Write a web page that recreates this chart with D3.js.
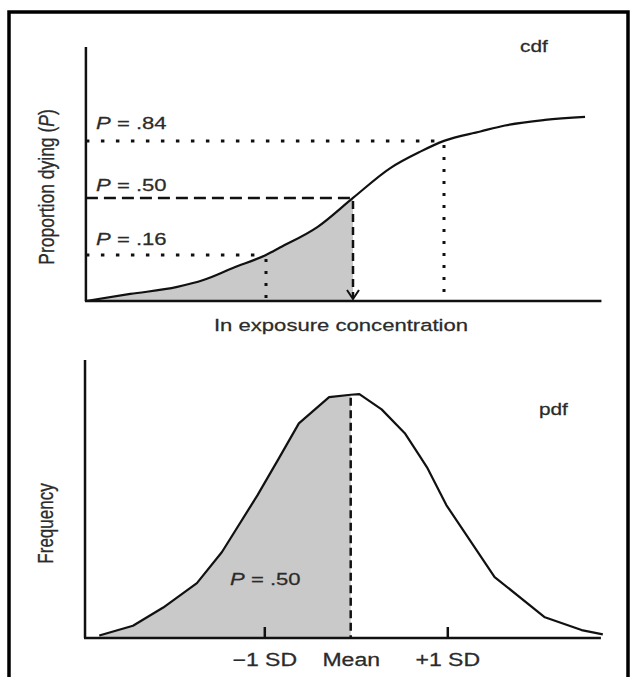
<!DOCTYPE html>
<html><head><meta charset="utf-8">
<script src="https://cdn.jsdelivr.net/npm/d3@7"></script>
<style>
html,body{margin:0;padding:0;background:#fff;}
svg{display:block;font-family:"Liberation Sans", Arial, Helvetica, sans-serif;}
svg text{stroke:#2b2b2b;stroke-width:0.25px;}
</style></head><body>
<svg id="chart" width="633" height="677"></svg>
<script>
// ---- Data ----
// Top panel (cdf): ln exposure concentration, in SD units from the mean, vs proportion dying
const cdfZ = [-3.07, -2.56, -2.02, -1.72, -1.38, -1.0, -0.84, -0.41, 0, 0.41, 0.74, 1.0, 1.40, 1.67, 2.11, 2.55];
const cdfP = [-0.115, -0.073, -0.031, 0.010, 0.082, 0.16, 0.204, 0.326, 0.50, 0.678, 0.776, 0.84, 0.896, 0.932, 0.965, 0.983];
// reference proportions and where they meet the curve
const refP = [0.84, 0.50, 0.16];
const refZ = [1, 0, -1];
const refLabels = [" = .84", " = .50", " = .16"];
// Bottom panel (pdf): SD units vs frequency
const pdfZ = [-2.91, -2.52, -2.17, -1.78, -1.49, -1.08, -0.83, -0.60, -0.25, 0, 0.09, 0.32, 0.56, 0.72, 0.79, 0.99, 1.49, 2.01, 2.39, 2.61];
const pdfF = [0.004, 0.020, 0.050, 0.090, 0.141, 0.234, 0.295, 0.352, 0.395, 0.399, 0.400, 0.375, 0.336, 0.297, 0.280, 0.218, 0.100, 0.034, 0.013, 0.006];
const sdTicks = [-1, 0, 1];
const sdLabels = ["\u22121 SD", "Mean", "+1 SD"];

// ---- Layout ----
const svg = d3.select("#chart");
const INK = "#111", TXT = "#2b2b2b", FILL = "#c9c9c9";
const SX = 1.3; // horizontal stretch of the lettering in the reference

svg.append("rect").attr("width", 633).attr("height", 677).attr("fill", "#fff");

// frame
svg.append("path").attr("d", "M9,677 L9,12 L628,12 L628,677").attr("fill", "none")
  .attr("stroke", "#000").attr("stroke-width", 3.5);

// ===== Top panel =====
const xT = d3.scaleLinear().domain([-1, 0, 1]).range([266, 353, 444]);
const yT = d3.scaleLinear().domain([-0.115, 1.40]).range([301, 47]);
const xT0 = -3.07, xT1 = 2.73, yT0 = -0.115, yT1 = 1.40;
const cdf = cdfZ.map((z, i) => ({z, p: cdfP[i]}));

svg.append("path").datum(cdf.filter(d => d.z <= 0))
  .attr("d", d3.area().x(d => xT(d.z)).y0(yT(yT0)).y1(d => yT(d.p)).curve(d3.curveMonotoneX))
  .attr("fill", FILL);

svg.append("path").datum(cdf)
  .attr("d", d3.line().x(d => xT(d.z)).y(d => yT(d.p)).curve(d3.curveMonotoneX))
  .attr("fill", "none").attr("stroke", INK).attr("stroke-width", 2.2);

refP.forEach((p, i) => {
  const dashed = p === 0.5;
  const hx = xT(refZ[i]), hy = yT(p);
  svg.append("line").attr("x1", xT(xT0)).attr("x2", hx).attr("y1", hy).attr("y2", hy)
    .attr("stroke", INK).attr("stroke-width", dashed ? 2.5 : 3)
    .attr("stroke-dasharray", dashed ? "12 6" : "3.5 11.5");
  svg.append("line").attr("x1", hx).attr("x2", hx).attr("y1", hy + (dashed ? 3 : 4))
    .attr("y2", dashed ? yT(yT0) - 3 : yT(yT0))
    .attr("stroke", INK).attr("stroke-width", dashed ? 2.5 : 3)
    .attr("stroke-dasharray", dashed ? "8 5" : "3 9");
  if (dashed) {
    const by = yT(yT0) - 2;
    svg.append("path").attr("d", `M${hx - 6},${by - 9} L${hx},${by} L${hx + 6},${by - 9}`)
      .attr("fill", "none").attr("stroke", INK).attr("stroke-width", 2);
  }
  const dy = [12, 7, 9.5][i];
  const t = svg.append("text").attr("transform", `translate(96,${hy - dy}) scale(${SX},1)`)
    .attr("font-size", 17).attr("fill", TXT);
  t.append("tspan").attr("font-style", "italic").text("P");
  t.append("tspan").text(refLabels[i]);
});

// axes (plain lines)
svg.append("line").attr("x1", xT(xT0)).attr("x2", xT(xT0)).attr("y1", yT(yT1)).attr("y2", yT(yT0))
  .attr("stroke", INK).attr("stroke-width", 2.5);
svg.append("line").attr("x1", xT(xT0) - 1).attr("x2", xT(xT1)).attr("y1", yT(yT0)).attr("y2", yT(yT0))
  .attr("stroke", INK).attr("stroke-width", 2.5);

svg.append("text").attr("transform", `translate(341,331) scale(${SX},1)`)
  .attr("text-anchor", "middle").attr("font-size", 17).attr("fill", TXT)
  .text("In exposure concentration");
const yl = svg.append("text").attr("transform", `translate(54,187) rotate(-90) scale(1,${SX})`)
  .attr("text-anchor", "middle").attr("font-size", 17.5).attr("fill", TXT);
yl.append("tspan").text("Proportion dying  (");
yl.append("tspan").attr("font-style", "italic").text("P");
yl.append("tspan").text(")");
svg.append("text").attr("transform", `translate(520,52) scale(${SX},1)`)
  .attr("font-size", 16).attr("fill", TXT).text("cdf");

// ===== Bottom panel =====
const xB = d3.scaleLinear().domain([-1, 0, 1]).range([264.3, 350.7, 447.3]);
const yB = d3.scaleLinear().domain([0, 0.456]).range([638, 360]);
const xB0 = -3.075, xB1 = 2.59;
const pdf = pdfZ.map((z, i) => ({z, f: pdfF[i]}));

svg.append("path").datum(pdf.filter(d => d.z <= 0))
  .attr("d", d3.area().x(d => xB(d.z)).y0(yB(0)).y1(d => yB(d.f)))
  .attr("fill", FILL);
svg.append("path").datum(pdf)
  .attr("d", d3.line().x(d => xB(d.z)).y(d => yB(d.f)))
  .attr("fill", "none").attr("stroke", INK).attr("stroke-width", 2.2).attr("stroke-linejoin", "round");

// mean dashed line
const meanF = pdf.find(d => d.z === 0).f;
svg.append("line").attr("x1", xB(0)).attr("x2", xB(0)).attr("y1", yB(meanF) + 3).attr("y2", yB(0))
  .attr("stroke", INK).attr("stroke-width", 2.5).attr("stroke-dasharray", "8 4.5");

// x axis with inward ticks
const ax = svg.append("g").attr("transform", `translate(0,${yB(0)})`)
  .call(d3.axisBottom(xB).tickValues(sdTicks).tickFormat((d, i) => sdLabels[i])
    .tickSizeInner(-11).tickSizeOuter(0).tickPadding(15));
ax.select(".domain").remove();
ax.selectAll(".tick line").attr("stroke", INK).attr("stroke-width", 2.5)
  .attr("display", d => d === 0 ? "none" : null);
ax.selectAll(".tick text").attr("font-size", 18).attr("fill", TXT)
  .attr("font-family", "Liberation Sans, Arial, sans-serif")
  .attr("transform", `scale(1.28,1)`);

svg.append("line").attr("x1", xB(xB0)).attr("x2", xB(xB0)).attr("y1", 360).attr("y2", yB(0))
  .attr("stroke", INK).attr("stroke-width", 2.5);
svg.append("line").attr("x1", xB(xB0) - 1).attr("x2", xB(xB1)).attr("y1", yB(0)).attr("y2", yB(0))
  .attr("stroke", INK).attr("stroke-width", 2.5);

const pl = svg.append("text").attr("transform", `translate(230,585) scale(${SX},1)`)
  .attr("font-size", 17).attr("fill", TXT);
pl.append("tspan").attr("font-style", "italic").text("P");
pl.append("tspan").text(" = .50");

svg.append("text").attr("transform", `translate(53,523.5) rotate(-90) scale(1,${SX})`)
  .attr("text-anchor", "middle").attr("font-size", 17).attr("fill", TXT).text("Frequency");
svg.append("text").attr("transform", `translate(539,415) scale(${SX},1)`)
  .attr("font-size", 16).attr("fill", TXT).text("pdf");
</script>
</body></html>
